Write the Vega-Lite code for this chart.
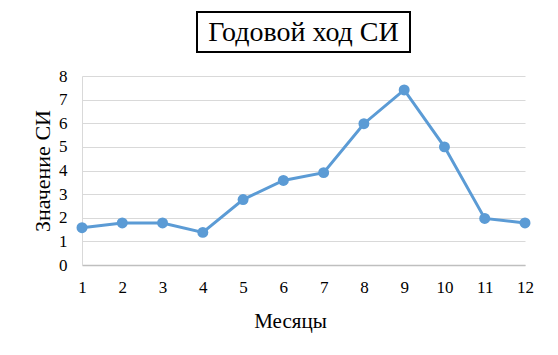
{
  "$schema": "https://vega.github.io/schema/vega-lite/v6.json",
  "padding": {"left": 31, "top": 11, "right": 30, "bottom": 10},
  "background": "white",
  "bounds": "flush",
  "center": true,
  "spacing": 24,
  "config": {"font": "Liberation Serif"},
  "vconcat": [
    {
      "width": 213,
      "height": 40,
      "data": {"values": [{"title": "Годовой ход СИ"}]},
      "view": {"stroke": "black", "strokeWidth": 2, "fill": "white"},
      "mark": {"type": "text", "font": "Liberation Serif", "fontSize": 28, "color": "black", "baseline": "middle", "align": "center", "dy": 1},
      "encoding": {"text": {"field": "title", "type": "nominal"}}
    },
    {
      "width": 443,
      "height": 189,
      "data": {"values": [
        {"month": 1, "si": 1.58},
        {"month": 2, "si": 1.78},
        {"month": 3, "si": 1.78},
        {"month": 4, "si": 1.38},
        {"month": 5, "si": 2.77},
        {"month": 6, "si": 3.58},
        {"month": 7, "si": 3.91},
        {"month": 8, "si": 5.98},
        {"month": 9, "si": 7.41},
        {"month": 10, "si": 5.0},
        {"month": 11, "si": 1.97},
        {"month": 12, "si": 1.78}
      ]},
      "view": {"stroke": null},
      "encoding": {
        "x": {
          "field": "month",
          "type": "ordinal",
          "scale": {"type": "point", "padding": 0},
          "axis": {
            "title": "Месяцы",
            "labelAngle": 0,
            "labelFont": "Liberation Serif",
            "labelFontSize": 17,
            "labelColor": "black",
            "labelPadding": 14,
            "titleFont": "Liberation Serif",
            "titleFontSize": 21,
            "titleFontWeight": "normal",
            "titleColor": "black",
            "titlePadding": 15,
            "titleX": 208,
            "ticks": false,
            "grid": false,
            "domainColor": "#bfbfbf",
            "domainWidth": 1.5
          }
        },
        "y": {
          "field": "si",
          "type": "quantitative",
          "scale": {"domain": [0, 8]},
          "axis": {
            "title": "Значение СИ",
            "values": [0, 1, 2, 3, 4, 5, 6, 7, 8],
            "labelFont": "Liberation Serif",
            "labelFontSize": 17,
            "labelColor": "black",
            "labelPadding": 15,
            "titleFont": "Liberation Serif",
            "titleFontSize": 22,
            "titleFontWeight": "normal",
            "titleColor": "black",
            "titlePadding": 4,
            "ticks": false,
            "gridColor": "#d9d9d9",
            "domainColor": "#d9d9d9"
          }
        }
      },
      "mark": {"type": "line", "color": "#5b9bd5", "strokeWidth": 3, "point": {"filled": true, "size": 120, "color": "#5b9bd5", "opacity": 1}}
    }
  ]
}
